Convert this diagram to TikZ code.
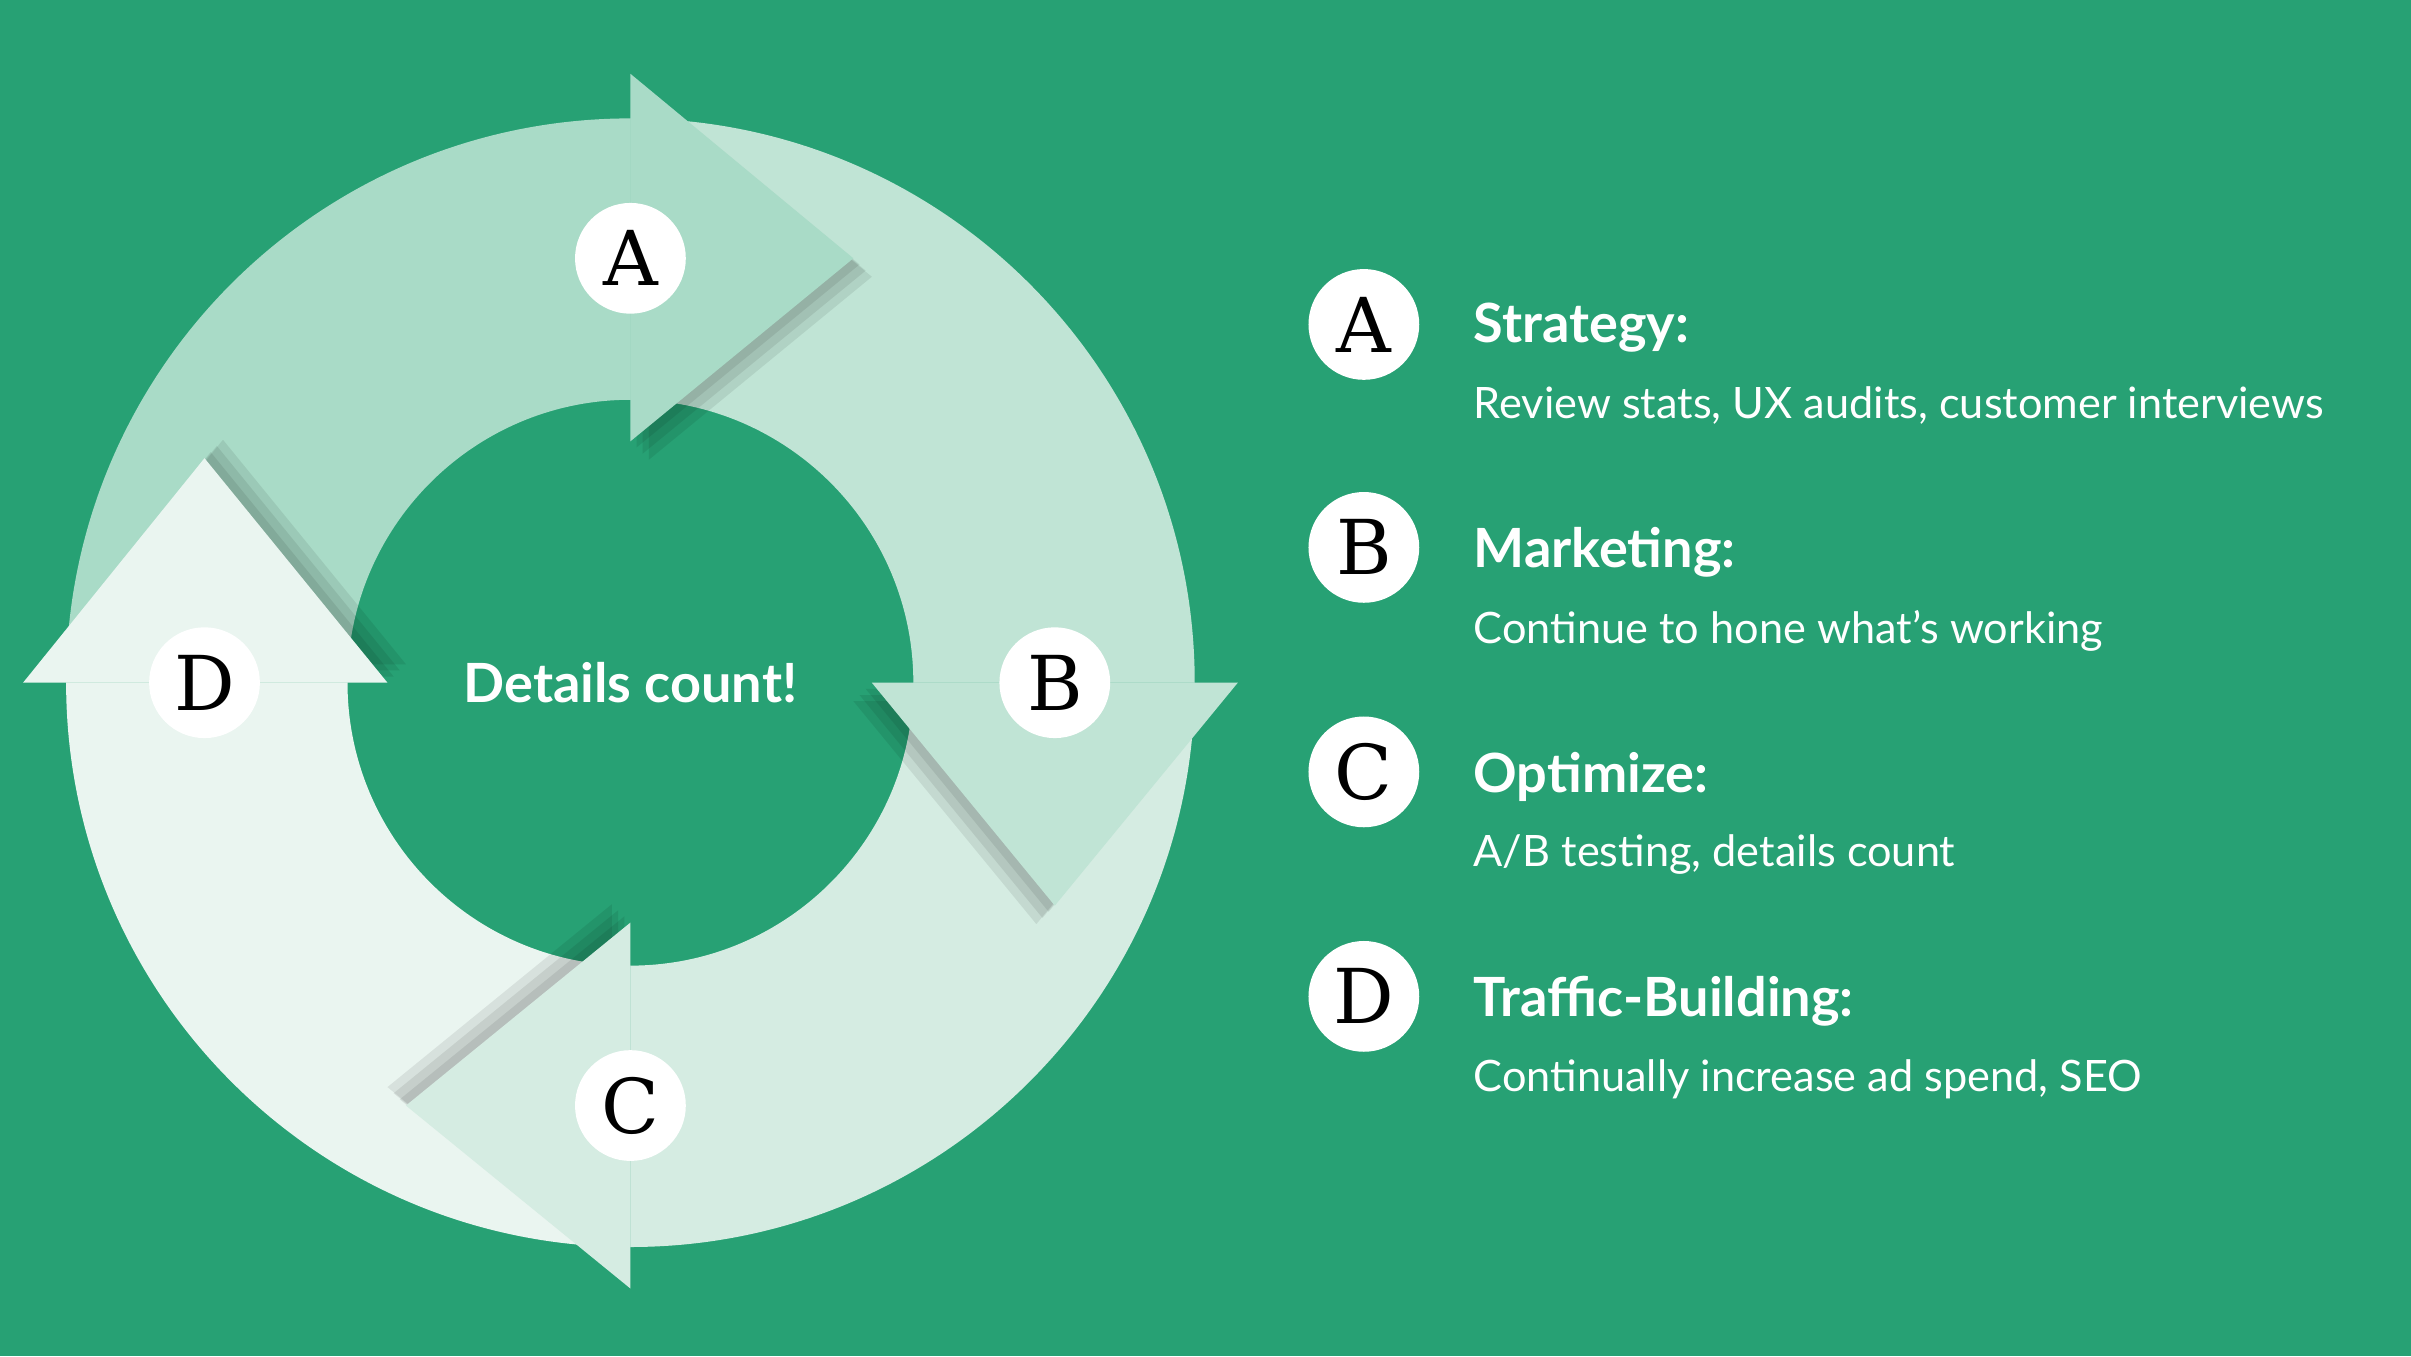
\documentclass[tikz,border=0pt]{standalone}
\usepackage{fontspec}
\setmainfont{Lato}
\newfontfamily\letterfont{DejaVu Serif}
\usetikzlibrary{positioning}

\definecolor{bgGreen}{HTML}{27A174}
\definecolor{cA}{HTML}{A9DBC7}
\definecolor{cB}{HTML}{C0E4D5}
\definecolor{cC}{HTML}{D5ECE2}
\definecolor{cD}{HTML}{EAF5F0}

\tikzset{
  badge/.style={circle,fill=white,minimum size=0.72cm,inner sep=0pt,
                font=\letterfont\fontsize{14}{14}\selectfont},
  title/.style={anchor=west,text=white,font=\bfseries\fontsize{10}{12}\selectfont},
  detail/.style={anchor=west,text=white,font=\fontsize{8}{10}\selectfont},
  headshade/.style={fill=black,opacity=0.08}
}

\begin{document}
\begin{tikzpicture}[x=0.01cm,y=-0.01cm]
  \fill[bgGreen] (0,0) rectangle (1568,882);
  \useasboundingbox (0,0) rectangle (1568,882);

  % ring bodies
  \fill[cA] (43,444) arc[start angle=180,end angle=270,radius=367]
    -- (410,260) arc[start angle=270,end angle=180,radius=184] -- cycle;
  \fill[cB] (410,77) arc[start angle=270,end angle=360,radius=367]
    -- (594,444) arc[start angle=360,end angle=270,radius=184] -- cycle;
  \fill[cC] (777,444) arc[start angle=0,end angle=90,radius=367]
    -- (410,628) arc[start angle=90,end angle=0,radius=184] -- cycle;
  \fill[cD] (410,811) arc[start angle=90,end angle=180,radius=367]
    -- (226,444) arc[start angle=180,end angle=90,radius=184] -- cycle;

  % shadows under the heads
  \foreach \s in {4,8,12}{
    \fill[headshade] ([shift={(\s,\s)}]410,48) -- ([shift={(\s,\s)}]555,168) -- ([shift={(\s,\s)}]410,287) -- cycle;
    \fill[headshade] ([shift={(-\s,\s)}]567,444) -- ([shift={(-\s,\s)}]686,589) -- ([shift={(-\s,\s)}]805,444) -- cycle;
    \fill[headshade] ([shift={(-\s,-\s)}]410,600) -- ([shift={(-\s,-\s)}]264,719) -- ([shift={(-\s,-\s)}]410,838) -- cycle;
    \fill[headshade] ([shift={(\s,-\s)}]15,444) -- ([shift={(\s,-\s)}]133,298) -- ([shift={(\s,-\s)}]252,444) -- cycle;
  }

  % arrow heads
  \fill[cA] (410,48) -- (555,168) -- (410,287) -- cycle;
  \fill[cB] (567,444) -- (686,589) -- (805,444) -- cycle;
  \fill[cC] (410,600) -- (264,719) -- (410,838) -- cycle;
  \fill[cD] (15,444) -- (133,298) -- (252,444) -- cycle;

  \node[badge] (ringA) at (410,168) {A};
  \node[badge] (ringB) at (686,444) {B};
  \node[badge] (ringC) at (410,719) {C};
  \node[badge] (ringD) at (133,444) {D};
  \node[text=white,font=\bfseries\fontsize{10}{12}\selectfont] (hub) at (410,444) {Details count!};

  % legend
  \node[badge] (keyA) at (887,211) {A};
  \node[badge] (keyB) at (887,356) {B};
  \node[badge] (keyC) at (887,502) {C};
  \node[badge] (keyD) at (887,648) {D};

  \node[title]  (stratT) at (946,213) {Strategy:};
  \node[detail] (stratD) at (946,264) {Review stats, UX audits, customer interviews};
  \node[title]  (markT)  at (946,359) {Marketing:};
  \node[detail] (markD)  at (946,410) {Continue to hone what's working};
  \node[title]  (optT)   at (946,505) {Optimize:};
  \node[detail] (optD)   at (946,556) {A/B testing, details count};
  \node[title]  (trafT)  at (946,651) {Traffic-Building:};
  \node[detail] (trafD)  at (946,702) {Continually increase ad spend, SEO};
\end{tikzpicture}
\end{document}
